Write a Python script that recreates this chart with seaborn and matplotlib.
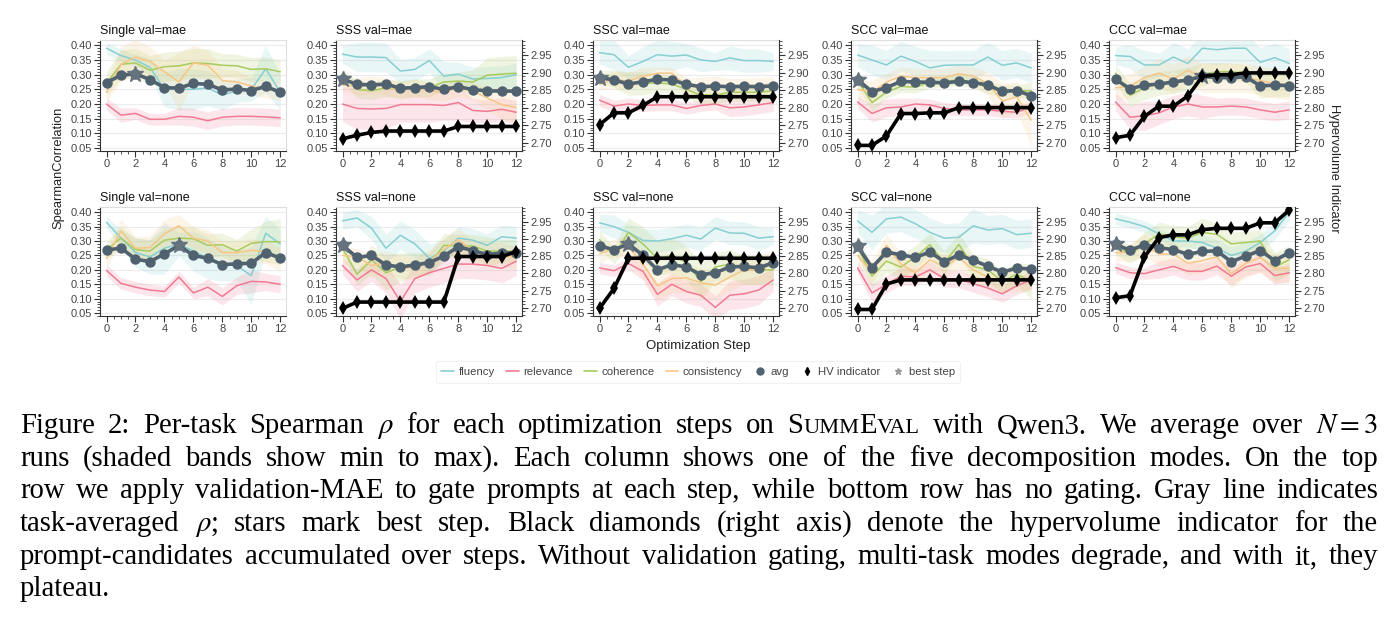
import matplotlib
matplotlib.use("Agg")
import matplotlib.pyplot as plt
import seaborn as sns
import numpy as np
from matplotlib.lines import Line2D
from matplotlib.ticker import MultipleLocator

# ---------------- data ----------------
steps = list(range(13))
panels = ["Single val=mae", "SSS val=mae", "SSC val=mae", "SCC val=mae", "CCC val=mae",
          "Single val=none", "SSS val=none", "SSC val=none", "SCC val=none", "CCC val=none"]
tasks = ["fluency", "relevance", "coherence", "consistency"]

fluency = {
    "Single val=mae": [0.39, 0.365, 0.35, 0.325, 0.25, 0.25, 0.25, 0.255, 0.23, 0.245, 0.25, 0.32, 0.24],
    "SSS val=mae": [0.37, 0.36, 0.36, 0.358, 0.312, 0.318, 0.348, 0.295, 0.302, 0.285, 0.287, 0.29, 0.30],
    "SSC val=mae": [0.375, 0.368, 0.325, 0.345, 0.368, 0.363, 0.367, 0.35, 0.345, 0.357, 0.348, 0.348, 0.345],
    "SCC val=mae": [0.367, 0.35, 0.333, 0.363, 0.345, 0.323, 0.332, 0.333, 0.333, 0.36, 0.332, 0.34, 0.323],
    "CCC val=mae": [0.365, 0.362, 0.333, 0.333, 0.36, 0.338, 0.39, 0.385, 0.39, 0.39, 0.342, 0.358, 0.338],
    "Single val=none": [0.365, 0.31, 0.26, 0.245, 0.275, 0.29, 0.265, 0.24, 0.22, 0.215, 0.18, 0.327, 0.29],
    "SSS val=none": [0.37, 0.38, 0.345, 0.275, 0.32, 0.29, 0.24, 0.265, 0.31, 0.303, 0.285, 0.315, 0.31],
    "SSC val=none": [0.363, 0.35, 0.33, 0.302, 0.3, 0.308, 0.32, 0.307, 0.345, 0.328, 0.327, 0.31, 0.315],
    "SCC val=none": [0.37, 0.33, 0.377, 0.383, 0.36, 0.33, 0.31, 0.313, 0.353, 0.338, 0.343, 0.322, 0.327],
    "CCC val=none": [0.377, 0.365, 0.35, 0.325, 0.30, 0.30, 0.295, 0.275, 0.25, 0.265, 0.295, 0.335, 0.40],
}
relevance = {
    "Single val=mae": [0.20, 0.162, 0.168, 0.148, 0.148, 0.158, 0.155, 0.143, 0.155, 0.158, 0.158, 0.156, 0.153],
    "SSS val=mae": [0.20, 0.185, 0.183, 0.185, 0.198, 0.198, 0.198, 0.195, 0.205, 0.178, 0.175, 0.182, 0.172],
    "SSC val=mae": [0.213, 0.193, 0.20, 0.195, 0.197, 0.197, 0.185, 0.195, 0.20, 0.187, 0.19, 0.197, 0.205],
    "SCC val=mae": [0.207, 0.168, 0.187, 0.19, 0.20, 0.197, 0.185, 0.18, 0.18, 0.18, 0.175, 0.172, 0.19],
    "CCC val=mae": [0.207, 0.155, 0.16, 0.17, 0.19, 0.20, 0.19, 0.19, 0.193, 0.19, 0.18, 0.172, 0.18],
    "Single val=none": [0.198, 0.153, 0.14, 0.13, 0.125, 0.175, 0.12, 0.14, 0.108, 0.145, 0.16, 0.158, 0.15],
    "SSS val=none": [0.215, 0.165, 0.20, 0.17, 0.09, 0.17, 0.19, 0.205, 0.22, 0.22, 0.215, 0.205, 0.23],
    "SSC val=none": [0.207, 0.197, 0.222, 0.195, 0.115, 0.15, 0.125, 0.112, 0.07, 0.112, 0.117, 0.13, 0.165],
    "SCC val=none": [0.207, 0.12, 0.15, 0.178, 0.175, 0.20, 0.17, 0.168, 0.152, 0.137, 0.117, 0.145, 0.165],
    "CCC val=none": [0.208, 0.19, 0.187, 0.20, 0.212, 0.195, 0.195, 0.213, 0.178, 0.21, 0.222, 0.18, 0.19],
}
coherence = {
    "Single val=mae": [0.27, 0.335, 0.34, 0.315, 0.327, 0.33, 0.34, 0.338, 0.332, 0.33, 0.318, 0.32, 0.31],
    "SSS val=mae": [0.30, 0.25, 0.245, 0.255, 0.25, 0.255, 0.255, 0.275, 0.278, 0.275, 0.298, 0.302, 0.305],
    "SSC val=mae": [0.295, 0.285, 0.27, 0.27, 0.272, 0.268, 0.25, 0.23, 0.23, 0.24, 0.24, 0.24, 0.245],
    "SCC val=mae": [0.28, 0.205, 0.24, 0.26, 0.257, 0.275, 0.275, 0.283, 0.275, 0.255, 0.245, 0.245, 0.245],
    "CCC val=mae": [0.305, 0.23, 0.255, 0.27, 0.275, 0.285, 0.30, 0.31, 0.31, 0.305, 0.26, 0.265, 0.265],
    "Single val=none": [0.27, 0.31, 0.27, 0.265, 0.303, 0.31, 0.308, 0.285, 0.287, 0.265, 0.292, 0.298, 0.297],
    "SSS val=none": [0.275, 0.185, 0.235, 0.19, 0.21, 0.22, 0.22, 0.285, 0.283, 0.283, 0.265, 0.265, 0.265],
    "SSC val=none": [0.305, 0.25, 0.33, 0.29, 0.24, 0.25, 0.225, 0.16, 0.21, 0.22, 0.20, 0.20, 0.20],
    "SCC val=none": [0.28, 0.178, 0.23, 0.21, 0.245, 0.287, 0.225, 0.288, 0.212, 0.20, 0.16, 0.185, 0.16],
    "CCC val=none": [0.285, 0.253, 0.29, 0.325, 0.315, 0.31, 0.33, 0.323, 0.29, 0.295, 0.30, 0.21, 0.235],
}
consistency = {
    "Single val=mae": [0.24, 0.335, 0.36, 0.345, 0.31, 0.275, 0.34, 0.332, 0.28, 0.275, 0.262, 0.25, 0.243],
    "SSS val=mae": [0.265, 0.26, 0.265, 0.26, 0.245, 0.255, 0.245, 0.24, 0.255, 0.245, 0.22, 0.198, 0.188],
    "SSC val=mae": [0.268, 0.283, 0.278, 0.295, 0.305, 0.305, 0.26, 0.26, 0.265, 0.258, 0.257, 0.26, 0.262],
    "SCC val=mae": [0.25, 0.24, 0.275, 0.295, 0.29, 0.29, 0.29, 0.303, 0.295, 0.27, 0.21, 0.225, 0.145],
    "CCC val=mae": [0.255, 0.26, 0.29, 0.305, 0.285, 0.315, 0.29, 0.29, 0.29, 0.29, 0.28, 0.27, 0.265],
    "Single val=none": [0.24, 0.335, 0.275, 0.277, 0.325, 0.353, 0.31, 0.30, 0.26, 0.26, 0.268, 0.262, 0.235],
    "SSS val=none": [0.25, 0.245, 0.215, 0.225, 0.21, 0.205, 0.23, 0.27, 0.305, 0.265, 0.255, 0.255, 0.24],
    "SSC val=none": [0.255, 0.275, 0.28, 0.22, 0.145, 0.17, 0.172, 0.155, 0.147, 0.175, 0.20, 0.20, 0.22],
    "SCC val=none": [0.25, 0.19, 0.285, 0.22, 0.19, 0.235, 0.21, 0.243, 0.20, 0.175, 0.16, 0.165, 0.165],
    "CCC val=none": [0.26, 0.26, 0.285, 0.255, 0.255, 0.223, 0.232, 0.245, 0.187, 0.222, 0.243, 0.205, 0.205],
}
avg = {
    "Single val=mae": [0.273, 0.298, 0.303, 0.283, 0.256, 0.254, 0.27, 0.267, 0.248, 0.251, 0.246, 0.26, 0.24],
    "SSS val=mae": [0.285, 0.267, 0.265, 0.268, 0.254, 0.256, 0.259, 0.25, 0.259, 0.249, 0.245, 0.244, 0.244],
    "SSC val=mae": [0.29, 0.282, 0.268, 0.276, 0.284, 0.282, 0.267, 0.259, 0.261, 0.259, 0.26, 0.259, 0.262],
    "SCC val=mae": [0.283, 0.242, 0.256, 0.277, 0.275, 0.274, 0.272, 0.277, 0.273, 0.265, 0.243, 0.246, 0.228],
    "CCC val=mae": [0.284, 0.252, 0.264, 0.268, 0.275, 0.282, 0.294, 0.29, 0.29, 0.292, 0.262, 0.264, 0.263],
    "Single val=none": [0.268, 0.276, 0.237, 0.229, 0.255, 0.285, 0.25, 0.24, 0.218, 0.221, 0.223, 0.26, 0.241],
    "SSS val=none": [0.285, 0.243, 0.25, 0.217, 0.21, 0.217, 0.225, 0.248, 0.28, 0.267, 0.253, 0.258, 0.26],
    "SSC val=none": [0.283, 0.27, 0.29, 0.25, 0.20, 0.218, 0.21, 0.183, 0.19, 0.21, 0.212, 0.207, 0.225],
    "SCC val=none": [0.283, 0.208, 0.262, 0.252, 0.243, 0.262, 0.228, 0.252, 0.233, 0.213, 0.192, 0.206, 0.203],
    "CCC val=none": [0.288, 0.268, 0.287, 0.277, 0.27, 0.254, 0.264, 0.266, 0.228, 0.248, 0.267, 0.232, 0.26],
}
best_step = {"Single val=mae": 2, "SSS val=mae": 0, "SSC val=mae": 0, "SCC val=mae": 0, "CCC val=mae": 6,
             "Single val=none": 5, "SSS val=none": 0, "SSC val=none": 2, "SCC val=none": 0, "CCC val=none": 0}
hv = {
    "SSS val=mae": [2.711, 2.721, 2.729, 2.733, 2.733, 2.733, 2.733, 2.733, 2.746, 2.746, 2.746, 2.746, 2.746],
    "SSC val=mae": [2.751, 2.785, 2.785, 2.806, 2.831, 2.831, 2.831, 2.831, 2.831, 2.831, 2.831, 2.831, 2.831],
    "SCC val=mae": [2.692, 2.692, 2.719, 2.783, 2.783, 2.785, 2.785, 2.80, 2.80, 2.80, 2.80, 2.80, 2.80],
    "CCC val=mae": [2.714, 2.721, 2.775, 2.804, 2.804, 2.833, 2.889, 2.894, 2.894, 2.899, 2.899, 2.899, 2.899],
    "SSS val=none": [2.698, 2.7165, 2.7165, 2.7165, 2.7165, 2.7165, 2.7165, 2.7165, 2.849, 2.849, 2.849, 2.849, 2.863],
    "SSC val=none": [2.698, 2.756, 2.844, 2.844, 2.844, 2.844, 2.844, 2.844, 2.844, 2.844, 2.844, 2.844, 2.844],
    "SCC val=none": [2.695, 2.695, 2.769, 2.781, 2.781, 2.781, 2.781, 2.781, 2.781, 2.781, 2.781, 2.781, 2.781],
    "CCC val=none": [2.729, 2.735, 2.848, 2.904, 2.912, 2.912, 2.927, 2.931, 2.931, 2.931, 2.947, 2.947, 2.984],
}
# half width of the min-max band, read from the shaded areas
spread = {
    "Single val=mae": {"fluency": [0.02, 0.02, 0.02, 0.03, 0.06, 0.07, 0.07, 0.06, 0.05, 0.04, 0.04, 0.08, 0.06],
                       "relevance": [0.02, 0.025, 0.02, 0.02, 0.02, 0.03, 0.03, 0.03, 0.03, 0.03, 0.03, 0.03, 0.03],
                       "coherence": [0.04, 0.05, 0.05, 0.05, 0.05, 0.05, 0.05, 0.05, 0.04, 0.04, 0.04, 0.04, 0.04],
                       "consistency": [0.03, 0.06, 0.06, 0.05, 0.04, 0.10, 0.06, 0.05, 0.04, 0.04, 0.03, 0.03, 0.03]},
    "SSS val=mae": {"fluency": [0.03, 0.05, 0.05, 0.05, 0.04, 0.04, 0.04, 0.05, 0.04, 0.04, 0.04, 0.04, 0.04],
                    "relevance": [0.06, 0.07, 0.07, 0.07, 0.06, 0.06, 0.06, 0.05, 0.06, 0.04, 0.04, 0.04, 0.04],
                    "coherence": [0.02, 0.03, 0.03, 0.03, 0.03, 0.03, 0.03, 0.03, 0.03, 0.04, 0.06, 0.06, 0.06],
                    "consistency": [0.02, 0.03, 0.03, 0.03, 0.03, 0.03, 0.03, 0.03, 0.03, 0.03, 0.04, 0.05, 0.05]},
    "SSC val=mae": {"fluency": [0.04, 0.05, 0.04, 0.05, 0.05, 0.05, 0.04, 0.04, 0.03, 0.04, 0.04, 0.04, 0.03],
                    "relevance": [0.02, 0.02, 0.02, 0.02, 0.02, 0.02, 0.02, 0.02, 0.02, 0.03, 0.03, 0.03, 0.03],
                    "coherence": [0.02, 0.03, 0.04, 0.04, 0.03, 0.03, 0.03, 0.03, 0.03, 0.03, 0.03, 0.03, 0.03],
                    "consistency": [0.02, 0.03, 0.03, 0.03, 0.02, 0.02, 0.03, 0.03, 0.03, 0.03, 0.03, 0.03, 0.03]},
    "SCC val=mae": {"fluency": [0.04, 0.05, 0.05, 0.05, 0.05, 0.06, 0.05, 0.05, 0.05, 0.05, 0.05, 0.05, 0.05],
                    "relevance": [0.02, 0.03, 0.03, 0.03, 0.02, 0.02, 0.02, 0.02, 0.02, 0.02, 0.02, 0.02, 0.02],
                    "coherence": [0.02, 0.03, 0.02, 0.02, 0.02, 0.02, 0.02, 0.02, 0.02, 0.02, 0.02, 0.02, 0.03],
                    "consistency": [0.03, 0.04, 0.03, 0.03, 0.03, 0.03, 0.03, 0.03, 0.03, 0.04, 0.06, 0.05, 0.09]},
    "CCC val=mae": {"fluency": [0.03, 0.04, 0.05, 0.04, 0.05, 0.05, 0.05, 0.05, 0.05, 0.05, 0.05, 0.05, 0.05],
                    "relevance": [0.03, 0.04, 0.05, 0.04, 0.04, 0.04, 0.04, 0.03, 0.03, 0.03, 0.03, 0.03, 0.03],
                    "coherence": [0.03, 0.04, 0.04, 0.04, 0.04, 0.04, 0.04, 0.03, 0.03, 0.03, 0.04, 0.04, 0.04],
                    "consistency": [0.04, 0.04, 0.04, 0.05, 0.05, 0.05, 0.05, 0.05, 0.05, 0.05, 0.05, 0.05, 0.05]},
    "Single val=none": {"fluency": [0.02, 0.03, 0.05, 0.06, 0.09, 0.04, 0.07, 0.07, 0.06, 0.05, 0.10, 0.06, 0.05],
                        "relevance": [0.02, 0.02, 0.02, 0.02, 0.02, 0.02, 0.02, 0.03, 0.03, 0.03, 0.04, 0.03, 0.03],
                        "coherence": [0.03, 0.04, 0.04, 0.04, 0.04, 0.04, 0.04, 0.04, 0.04, 0.04, 0.05, 0.07, 0.08],
                        "consistency": [0.03, 0.04, 0.04, 0.04, 0.05, 0.04, 0.04, 0.04, 0.04, 0.04, 0.04, 0.04, 0.04]},
    "SSS val=none": {"fluency": [0.03, 0.03, 0.04, 0.05, 0.05, 0.05, 0.05, 0.04, 0.04, 0.04, 0.04, 0.04, 0.04],
                     "relevance": [0.03, 0.04, 0.04, 0.05, 0.06, 0.05, 0.05, 0.05, 0.05, 0.05, 0.05, 0.05, 0.05],
                     "coherence": [0.02, 0.04, 0.05, 0.06, 0.05, 0.04, 0.04, 0.04, 0.04, 0.04, 0.05, 0.04, 0.04],
                     "consistency": [0.03, 0.03, 0.04, 0.04, 0.04, 0.04, 0.04, 0.04, 0.04, 0.04, 0.04, 0.04, 0.04]},
    "SSC val=none": {"fluency": [0.03, 0.04, 0.03, 0.04, 0.04, 0.04, 0.04, 0.04, 0.04, 0.04, 0.04, 0.04, 0.03],
                     "relevance": [0.02, 0.02, 0.02, 0.03, 0.04, 0.04, 0.04, 0.04, 0.04, 0.05, 0.05, 0.05, 0.04],
                     "coherence": [0.03, 0.03, 0.05, 0.06, 0.06, 0.06, 0.06, 0.06, 0.05, 0.05, 0.05, 0.05, 0.05],
                     "consistency": [0.03, 0.03, 0.04, 0.05, 0.05, 0.05, 0.05, 0.05, 0.05, 0.05, 0.05, 0.05, 0.05]},
    "SCC val=none": {"fluency": [0.04, 0.06, 0.05, 0.05, 0.05, 0.05, 0.05, 0.05, 0.06, 0.05, 0.05, 0.05, 0.05],
                     "relevance": [0.02, 0.03, 0.03, 0.03, 0.03, 0.03, 0.03, 0.03, 0.03, 0.03, 0.03, 0.03, 0.03],
                     "coherence": [0.03, 0.04, 0.04, 0.04, 0.04, 0.04, 0.04, 0.04, 0.04, 0.04, 0.04, 0.04, 0.06],
                     "consistency": [0.03, 0.04, 0.04, 0.04, 0.04, 0.04, 0.04, 0.04, 0.04, 0.04, 0.04, 0.04, 0.04]},
    "CCC val=none": {"fluency": [0.02, 0.02, 0.02, 0.02, 0.02, 0.02, 0.03, 0.03, 0.03, 0.03, 0.03, 0.03, 0.03],
                     "relevance": [0.02, 0.02, 0.02, 0.03, 0.03, 0.03, 0.03, 0.03, 0.03, 0.03, 0.03, 0.03, 0.03],
                     "coherence": [0.03, 0.03, 0.04, 0.04, 0.04, 0.04, 0.05, 0.04, 0.04, 0.04, 0.04, 0.05, 0.05],
                     "consistency": [0.03, 0.03, 0.04, 0.04, 0.04, 0.04, 0.04, 0.04, 0.05, 0.05, 0.05, 0.05, 0.05]},
}
task_values = {"fluency": fluency, "relevance": relevance, "coherence": coherence, "consistency": consistency}
task_colors = {"fluency": "#86cfd2", "relevance": "#f27992", "coherence": "#a7cb5c", "consistency": "#f7c684"}
avg_color = "#506270"
star_color = "#66737f"

caption_lines = [
    "Figure 2: Per-task Spearman $\\rho$ for each optimization steps on SUMMEVAL with Qwen3. We average over $N=3$",
    "runs (shaded bands show min to max). Each column shows one of the five decomposition modes. On the top",
    "row we apply validation-MAE to gate prompts at each step, while bottom row has no gating. Gray line indicates",
    "task-averaged $\\rho$; stars mark best step. Black diamonds (right axis) denote the hypervolume indicator for the",
    "prompt-candidates accumulated over steps. Without validation gating, multi-task modes degrade, and with it, they",
    "plateau.",
]

# ---------------- style ----------------
sns.set_style("whitegrid", {"grid.color": "#ececec"})
plt.rcParams["font.family"] = ["Liberation Sans", "DejaVu Sans"]
plt.rcParams["mathtext.fontset"] = "stix"

W, H = 1393, 639
fig = plt.figure(figsize=(W / 100, H / 100), dpi=100)

lefts = [100, 336, 593, 851, 1109]
rows = [(40, 151), (207, 316)]
ax_w = 186
tick_fs = 8


def px_rect(x0, y0, w, h):
    return [x0 / W, 1 - (y0 + h) / H, w / W, h / H]


def style_axis(ax):
    ax.grid(axis="x", visible=False)
    for s in ["top", "right", "left", "bottom"]:
        ax.spines[s].set_color("#dddddd")
        ax.spines[s].set_linewidth(0.8)
    ax.spines["left"].set_color("#333333")
    ax.spines["bottom"].set_color("#333333")
    ax.tick_params(which="both", direction="out", color="#333333", labelcolor="#444444",
                   labelsize=tick_fs, left=True, bottom=True, pad=2)
    ax.tick_params(which="major", length=4)
    ax.tick_params(which="minor", length=2)


for i, name in enumerate(panels):
    r, c = divmod(i, 5)
    y0, y1 = rows[r]
    ax = fig.add_axes(px_rect(lefts[c], y0, ax_w, y1 - y0))
    for t in tasks:
        vals = np.array(task_values[t][name])
        sp = np.array(spread[name][t])
        ax.fill_between(steps, vals - sp, vals + sp, color=task_colors[t], alpha=0.18, lw=0)
        sns.lineplot(x=steps, y=vals, ax=ax, color=task_colors[t], lw=1.1)
    sns.lineplot(x=steps, y=avg[name], ax=ax, color=avg_color, lw=2.6, marker="o",
                 markersize=7.5, markeredgewidth=0, zorder=5)
    b = best_step[name]
    ax.plot([steps[b]], [avg[name][b]], marker="*", color=star_color, markersize=12, zorder=6, ls="none")
    ax.set_xlim(-0.45, 12.4)
    ax.set_ylim(0.04, 0.418)
    ax.set_xticks(range(0, 13, 2))
    ax.xaxis.set_minor_locator(MultipleLocator(0.5))
    ax.set_yticks(np.arange(0.05, 0.41, 0.05))
    ax.yaxis.set_minor_locator(MultipleLocator(0.01))
    ax.set_yticklabels([f"{v:.2f}" for v in np.arange(0.05, 0.41, 0.05)])
    ax.set_xlabel("")
    ax.set_ylabel("")
    ax.set_title(name, loc="left", fontsize=9, pad=4, color="#111111")
    style_axis(ax)
    if name in hv:
        ax2 = ax.twinx()
        sns.lineplot(x=steps, y=hv[name], ax=ax2, color="black", lw=2.6, marker="d",
                     markersize=7, markeredgewidth=0, zorder=7)
        ax2.set_ylim(2.676, 2.993)
        ax2.set_yticks([2.70, 2.75, 2.80, 2.85, 2.90, 2.95])
        ax2.set_yticklabels(["2.70", "2.75", "2.80", "2.85", "2.90", "2.95"])
        ax2.yaxis.set_minor_locator(MultipleLocator(0.01))
        ax2.grid(False)
        ax2.set_ylabel("")
        for s in ["top", "left", "bottom"]:
            ax2.spines[s].set_visible(False)
        ax2.spines["right"].set_color("#333333")
        ax2.tick_params(which="both", direction="out", color="#333333", labelcolor="#444444",
                        labelsize=tick_fs, right=True, pad=2)
        ax2.tick_params(which="major", length=4)
        ax2.tick_params(which="minor", length=2)

fig.text(58 / W, 1 - 168 / H, "SpearmanCorrelation", rotation=90, ha="center", va="center",
         fontsize=9.3, color="#222222")
fig.text(1334 / W, 1 - 168 / H, "Hypervolume Indicator", rotation=270, ha="center", va="center",
         fontsize=9.3, color="#222222")
fig.text(698 / W, 1 - 346 / H, "Optimization Step", ha="center", va="center", fontsize=9.5, color="#222222")

handles = [Line2D([], [], color=task_colors[t], lw=1.2) for t in tasks]
handles += [Line2D([], [], color=avg_color, marker="o", ls="none", markersize=5),
            Line2D([], [], color="black", marker="d", ls="none", markersize=4),
            Line2D([], [], color="#999999", marker="*", ls="none", markersize=5)]
labels = tasks + ["avg", "HV indicator", "best step"]
leg = fig.legend(handles, labels, loc="center", bbox_to_anchor=(698 / W, 1 - 372 / H), ncol=7,
                 fontsize=8.2, frameon=True, handlelength=1.1, columnspacing=1.0, handletextpad=0.4,
                 borderpad=0.5)
leg.get_frame().set_edgecolor("#eeeeee")
leg.get_frame().set_linewidth(0.8)
for txt in leg.get_texts():
    txt.set_color("#444444")

# ---------------- caption (justified) ----------------
renderer = fig.canvas.get_renderer()
cap_size = 20.7
serif = ["Liberation Serif", "DejaVu Serif"]
x_left, x_right = 20, 1378
baselines = [433, 466, 498.5, 531, 564, 596.5]


def word_pieces(word):
    if word.startswith("SUMMEVAL"):
        return [("S", 1.0), ("UMM", 0.78), ("E", 1.0), ("VAL", 0.78)]
    return [(word, 1.0)]


for li, line in enumerate(caption_lines):
    words = line.split(" ")
    merged = []
    k = 0
    while k < len(words):
        w = words[k]
        if w.count("$") == 1:
            w = w + " " + words[k + 1]
            k += 1
        merged.append(w)
        k += 1
    items = []
    for w in merged:
        objs = []
        width = 0
        for text, scale in word_pieces(w):
            t = fig.text(0, 0, text, fontsize=cap_size * scale, family=serif, va="baseline", color="black")
            bw = t.get_window_extent(renderer).width
            objs.append((t, width))
            width += bw
        items.append((objs, width))
    total = sum(wd for _, wd in items)
    if li < len(caption_lines) - 1 and len(items) > 1:
        gap = (x_right - x_left - total) / (len(items) - 1)
    else:
        gap = cap_size * 0.25 * 100 / 72
    x = x_left
    yb = 1 - baselines[li] / H
    for objs, wd in items:
        for t, off in objs:
            t.set_position(((x + off) / W, yb))
        x += wd + gap

fig.savefig("out.png", dpi=100)
